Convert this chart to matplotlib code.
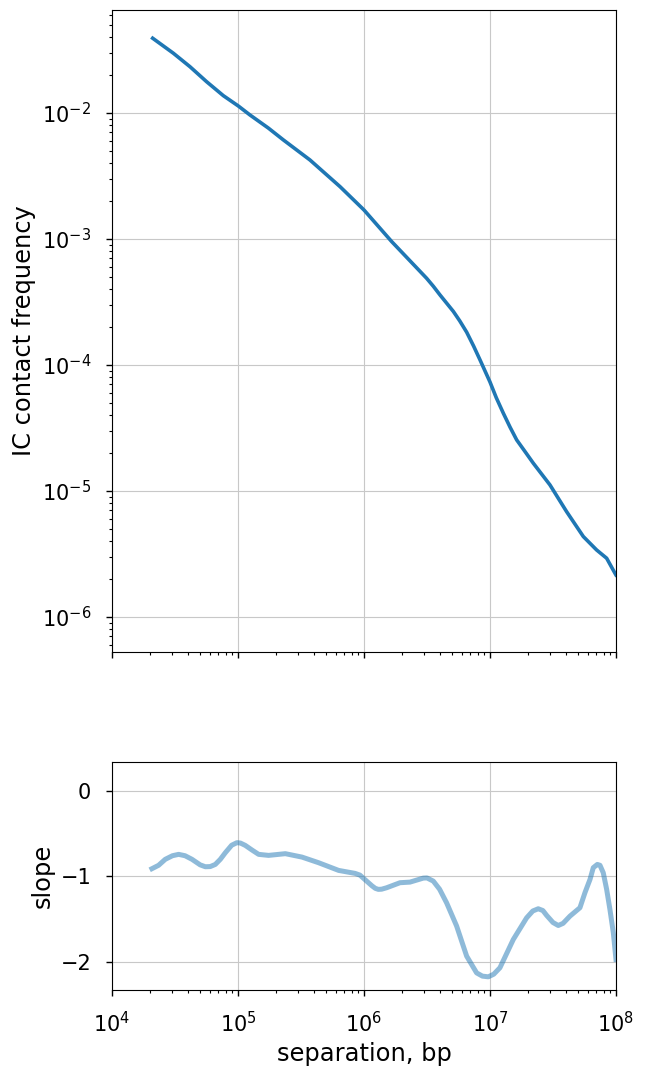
import numpy as np
import matplotlib
matplotlib.use("Agg")
import matplotlib.pyplot as plt

# contact frequency curve (log10 separation, log10 P)
pc_logs = [4.323, 4.487, 4.619, 4.751, 4.884, 5.003, 5.095, 5.241, 5.36, 5.571, 5.81,
           6.0, 6.22, 6.497, 6.55, 6.603, 6.709, 6.76, 6.815, 6.87, 6.921, 7.0, 7.05,
           7.106, 7.16, 7.212, 7.28, 7.344, 7.476, 7.608, 7.741, 7.846, 7.926, 7.992, 8.0]
pc_logp = [-1.407, -1.526, -1.633, -1.752, -1.863, -1.945, -2.016, -2.12, -2.214, -2.373, -2.585,
           -2.77, -3.021, -3.312, -3.375, -3.444, -3.575, -3.65, -3.74, -3.85, -3.96, -4.135, -4.26,
           -4.383, -4.495, -4.595, -4.69, -4.78, -4.952, -5.164, -5.362, -5.468, -5.534, -5.653, -5.667]

# local slope curve (log10 separation, slope)
sl_logs = [4.317, 4.37, 4.423, 4.48, 4.529, 4.58, 4.635, 4.70, 4.741, 4.78, 4.82, 4.86,
           4.9, 4.95, 4.992, 5.02, 5.058, 5.11, 5.164, 5.243, 5.376, 5.508, 5.64, 5.799,
           5.93, 5.968, 6.021, 6.063, 6.09, 6.114, 6.14, 6.18, 6.286, 6.365, 6.471, 6.50,
           6.55, 6.60, 6.656, 6.735, 6.815, 6.894, 6.94, 6.987, 7.03, 7.079, 7.185,
           7.291, 7.34, 7.383, 7.42, 7.45, 7.50, 7.542, 7.58, 7.635, 7.714, 7.754,
           7.794, 7.82, 7.852, 7.873, 7.899, 7.926, 7.952, 7.979, 8.0]
sl_vals = [-0.91, -0.87, -0.80, -0.758, -0.742, -0.758, -0.80, -0.865, -0.887, -0.885, -0.86, -0.80,
           -0.722, -0.635, -0.605, -0.61, -0.637, -0.69, -0.742, -0.754, -0.734, -0.774, -0.84, -0.93,
           -0.965, -0.985, -1.055, -1.11, -1.14, -1.152, -1.15, -1.133, -1.074, -1.067, -1.02, -1.018,
           -1.055, -1.15, -1.31, -1.58, -1.934, -2.13, -2.168, -2.176, -2.145, -2.07, -1.739,
           -1.485, -1.405, -1.379, -1.40, -1.457, -1.54, -1.575, -1.55, -1.465, -1.367, -1.19,
           -1.035, -0.898, -0.86, -0.87, -0.957, -1.152, -1.387, -1.66, -1.973]

plt.rcParams['font.size'] = 15
plt.rcParams['axes.labelsize'] = 17.4

fig = plt.figure(figsize=(6.45, 10.75), dpi=100)
ax1 = fig.add_axes([0.1736, 0.3935, 0.7814, 0.5972])
ax2 = fig.add_axes([0.1736, 0.0791, 0.7814, 0.2121], sharex=ax1)

s = 10 ** np.array(pc_logs)
p = 10 ** np.array(pc_logp)
ax1.loglog(s, p, color='#1f77b4', lw=2.6, solid_joinstyle='round')
ax1.set_ylim(10 ** -6.278, 10 ** -1.183)
ax1.set_ylabel('IC contact frequency')
ax1.grid(True, which='major', color='#c8c8c8', lw=0.8)
ax1.tick_params(labelbottom=False)

ax2.semilogx(10 ** np.array(sl_logs), sl_vals, color='#1f77b4', alpha=0.5, lw=3.6,
             solid_joinstyle='round')
ax2.set_xlim(1e4, 1e8)
ax2.set_ylim(-2.33, 0.34)
ax2.set_yticks([0, -1, -2])
ax2.set_ylabel('slope')
ax2.set_xlabel('separation, bp')
ax2.grid(True, which='major', color='#c8c8c8', lw=0.8)

for ax in (ax1, ax2):
    ax.tick_params(which='major', length=4, width=1, pad=11)
    ax.tick_params(which='minor', length=2.5, width=0.8)

fig.savefig('out.png', dpi=100)
